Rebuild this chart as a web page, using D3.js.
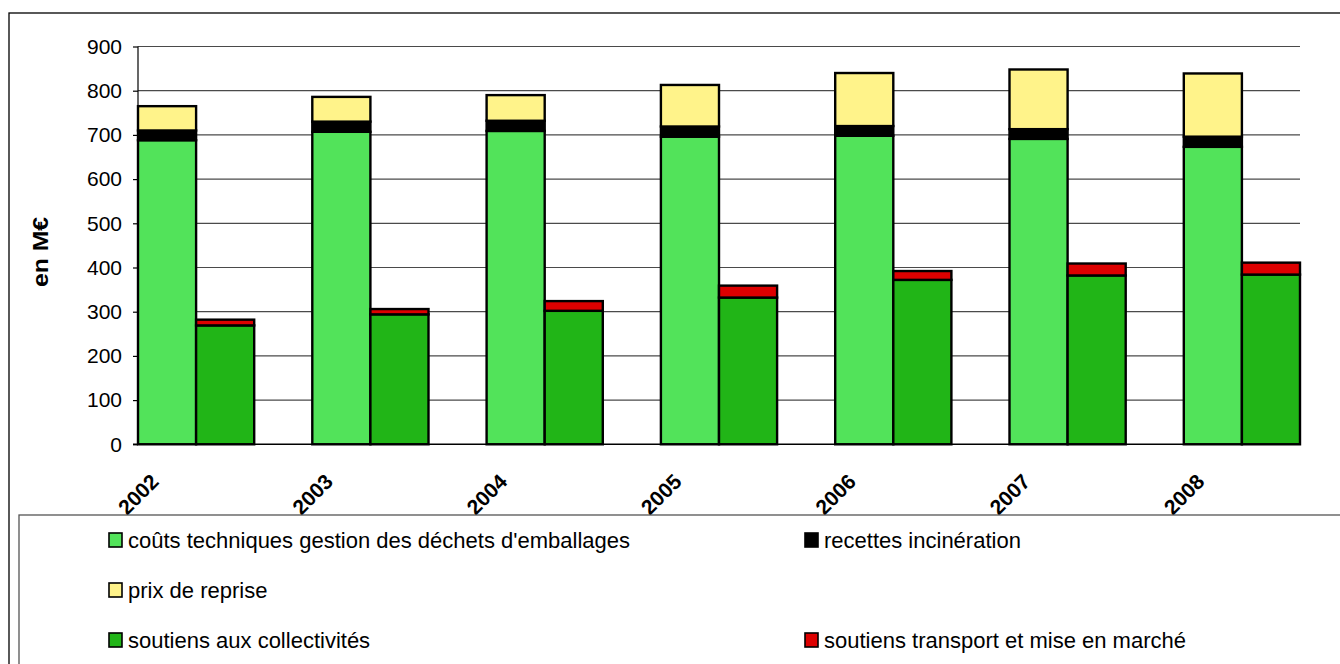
<!DOCTYPE html>
<html>
<head>
<meta charset="utf-8">
<script src="https://cdn.jsdelivr.net/npm/d3@7/dist/d3.min.js"></script>
<style>
  html, body { margin: 0; padding: 0; background: #fff; }
  svg { display: block; font-family: "Liberation Sans", Arial, sans-serif; }
</style>
</head>
<body>
<svg id="chart" width="1340" height="664"></svg>
<script>
// ---- data ----
const years = ["2002", "2003", "2004", "2005", "2006", "2007", "2008"];
const coutsTechniques = [688, 707, 709, 696, 698, 691, 673];
const recettesIncineration = [22, 23, 23, 23, 22, 22, 23];
const prixReprise = [55, 56, 58, 94, 120, 135, 143];
const soutiensCollectivites = [269, 294, 302, 332, 372, 382, 384];
const soutiensTransport = [13, 12, 22, 27, 20, 27, 27];
const yTicks = [0, 100, 200, 300, 400, 500, 600, 700, 800, 900];
const yTitle = "en M€";

const seriesNames = {
  couts: "coûts techniques gestion des déchets d'emballages",
  recettes: "recettes incinération",
  prix: "prix de reprise",
  soutiens: "soutiens aux collectivités",
  transport: "soutiens transport et mise en marché"
};
const colors = {
  couts: "#52E35A",
  recettes: "#000000",
  prix: "#FFF38A",
  soutiens: "#21B517",
  transport: "#DD0000"
};
// legend grid order (2 columns), null = empty cell
const legendOrder = ["couts", "recettes", "prix", null, "soutiens", "transport"];

// ---- layout ----
const svg = d3.select("#chart");
const plot = { left: 138, right: 1300, top: 46.5, bottom: 444.3 };

const x = d3.scaleBand().domain(years).range([plot.left, plot.right])
  .paddingInner(1 / 3).paddingOuter(0);
const xSub = d3.scaleBand().domain(["A", "B"]).range([0, x.bandwidth()]);
const y = d3.scaleLinear().domain([0, 900]).range([plot.bottom, plot.top]);

// outer frame
svg.append("rect").attr("x", 9).attr("y", 13).attr("width", 1400).attr("height", 700)
  .attr("fill", "#fff").attr("stroke", "#000").attr("stroke-width", 1.3);

// gridlines
svg.append("g").selectAll("line").data(yTicks.filter(d => d > 0)).join("line")
  .attr("x1", plot.left).attr("x2", plot.right)
  .attr("y1", d => y(d)).attr("y2", d => y(d))
  .attr("stroke", "#4a4a4a").attr("stroke-width", 1.2);

// y axis
const yAxis = d3.axisLeft(y).tickValues(yTicks).tickSize(5).tickPadding(11).tickFormat(d3.format("d"));
const gy = svg.append("g").attr("transform", `translate(${plot.left},0)`).call(yAxis);
gy.select(".domain").remove();
gy.selectAll(".tick line").attr("stroke", "#000").attr("stroke-width", 1.2);
gy.selectAll(".tick text").attr("font-size", 21).attr("fill", "#000")
  .attr("font-family", "Liberation Sans, Arial, sans-serif");

// stacked data
const leftStack = years.map((yr, i) => {
  const a = coutsTechniques[i], b = recettesIncineration[i], c = prixReprise[i];
  return { year: yr, segs: [
    { key: "couts", y0: 0, y1: a },
    { key: "recettes", y0: a, y1: a + b },
    { key: "prix", y0: a + b, y1: a + b + c }
  ]};
});
const rightStack = years.map((yr, i) => {
  const a = soutiensCollectivites[i], b = soutiensTransport[i];
  return { year: yr, segs: [
    { key: "soutiens", y0: 0, y1: a },
    { key: "transport", y0: a, y1: a + b }
  ]};
});

function drawStack(data, sub) {
  const g = svg.append("g");
  data.forEach(d => {
    g.selectAll(null).data(d.segs).join("rect")
      .attr("x", x(d.year) + xSub(sub))
      .attr("width", xSub.bandwidth())
      .attr("y", s => y(s.y1))
      .attr("height", s => y(s.y0) - y(s.y1))
      .attr("fill", s => colors[s.key])
      .attr("stroke", "#000").attr("stroke-width", 2.4);
  });
}
drawStack(leftStack, "A");
drawStack(rightStack, "B");

// axis lines
svg.append("line").attr("x1", plot.left).attr("x2", plot.left)
  .attr("y1", plot.top).attr("y2", plot.bottom).attr("stroke", "#000").attr("stroke-width", 1.2);
svg.append("line").attr("x1", plot.left - 5).attr("x2", plot.right)
  .attr("y1", plot.bottom).attr("y2", plot.bottom).attr("stroke", "#000").attr("stroke-width", 1.5);

// x labels
svg.append("g").selectAll("text").data(years).join("text")
  .attr("transform", d => `translate(${x(d) + 22},483) rotate(-45)`)
  .attr("text-anchor", "end")
  .attr("font-size", 21).attr("font-weight", "bold").attr("fill", "#000")
  .text(d => d);

// y title
svg.append("text")
  .attr("transform", "translate(48,252) rotate(-90)")
  .attr("text-anchor", "middle")
  .attr("font-size", 22).attr("font-weight", "bold").attr("fill", "#000")
  .attr("textLength", 70).attr("lengthAdjust", "spacingAndGlyphs")
  .text(yTitle);

// legend box
svg.append("rect").attr("x", 19).attr("y", 515).attr("width", 1400).attr("height", 300)
  .attr("fill", "#fff").attr("stroke", "#555").attr("stroke-width", 1.3);

const legendCols = [109, 805];
const legendRows = [540, 590, 640];
const lg = svg.append("g");
legendOrder.forEach((key, i) => {
  if (!key) return;
  const cx = legendCols[i % 2], cy = legendRows[Math.floor(i / 2)];
  lg.append("rect").attr("x", cx).attr("y", cy - 7).attr("width", 13).attr("height", 14)
    .attr("fill", colors[key]).attr("stroke", "#000").attr("stroke-width", 1.6);
  lg.append("text").attr("x", cx + 19).attr("y", cy + 7.5)
    .attr("font-size", 22).attr("fill", "#000").text(seriesNames[key]);
});
</script>
</body>
</html>
